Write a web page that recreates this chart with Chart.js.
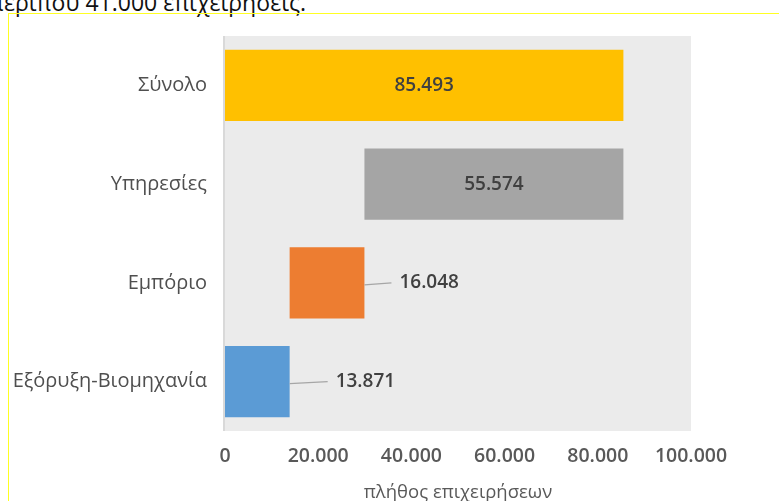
<!DOCTYPE html>
<html>
<head>
<meta charset="utf-8">
<title>Επιχειρήσεις ανά τομέα</title>
<script src="https://cdn.jsdelivr.net/npm/chart.js"></script>
<style>
	body { margin: 0; background: #fff; width: 779px; height: 501px; overflow: hidden; position: relative; font-family: "Open Sans", sans-serif; }
	.keimeno { position: absolute; left: -11px; top: -14px; font-size: 23px; color: #111; white-space: nowrap; }
	.plaisio { position: absolute; left: 8px; top: 13px; width: 800px; height: 520px; border: 1px solid #ffff22; box-sizing: border-box; }
	#grafima { position: absolute; left: 0; top: 0; }
</style>
</head>
<body>

<div class="keimeno">περίπου 41.000 επιχειρήσεις.</div>
<div class="plaisio"></div>
<canvas id="grafima" width="779" height="501"></canvas>

<script>
	// κατηγορίες και τιμές (πλήθος επιχειρήσεων)
	var katigories = ["Σύνολο", "Υπηρεσίες", "Εμπόριο", "Εξόρυξη-Βιομηχανία"];
	var times = [85493, 55574, 16048, 13871];
	// από πού ξεκινά κάθε μπάρα (καταρράκτης)
	var arxes = [0, 29919, 13871, 0];
	var xromata = ["#FFC000", "#A5A5A5", "#ED7D31", "#5B9BD5"];
	var tickTimes = [0, 20000, 40000, 60000, 80000, 100000];

	function morfi(n) {
		return n.toString().replace(/\B(?=(\d{3})+(?!\d))/g, ".");
	}

	var dedomena = [];
	for (var i = 0; i < times.length; i++) {
		dedomena.push([arxes[i], arxes[i] + times[i]]);
	}

	// γκρι φόντο της περιοχής σχεδίασης και γραμμή άξονα
	var fonto = {
		id: "fonto",
		beforeDraw: function (chart) {
			var ca = chart.chartArea;
			var ctx = chart.ctx;
			ctx.save();
			ctx.fillStyle = "#EBEBEB";
			ctx.fillRect(ca.left, ca.top, ca.right - ca.left, ca.bottom - ca.top);
			ctx.fillStyle = "#D9D9D9";
			ctx.fillRect(ca.left - 2, ca.top, 2, ca.bottom - ca.top);
			ctx.restore();
		}
	};

	// ετικέτες τιμών: μέσα στη μπάρα αν χωράει, αλλιώς δεξιά με οδηγό γραμμή
	var etiketes = {
		id: "etiketes",
		afterDatasetsDraw: function (chart) {
			var ctx = chart.ctx;
			var meta = chart.getDatasetMeta(0);
			ctx.save();
			ctx.font = "600 19px 'Open Sans'";
			ctx.fillStyle = "#404040";
			ctx.textBaseline = "middle";
			meta.data.forEach(function (bar, i) {
				var keimeno = morfi(times[i]);
				var aristera = Math.min(bar.x, bar.base);
				var dexia = Math.max(bar.x, bar.base);
				if (dexia - aristera > 120) {
					ctx.textAlign = "center";
					ctx.fillText(keimeno, (aristera + dexia) / 2, bar.y);
				} else {
					// μικρές μπάρες: ο οδηγός μακραίνει όσο στενεύει η μπάρα
					var mikos = i == 3 ? 38 : 27;
					ctx.strokeStyle = "#A6A6A6";
					ctx.lineWidth = 1.5;
					ctx.beginPath();
					ctx.moveTo(dexia, bar.y + 2);
					ctx.lineTo(dexia + mikos, bar.y);
					ctx.stroke();
					ctx.textAlign = "left";
					ctx.fillText(keimeno, dexia + mikos + 8, bar.y);
				}
			});
			ctx.restore();
		}
	};

	new Chart(document.getElementById("grafima"), {
		type: "bar",
		data: {
			labels: katigories,
			datasets: [{
				data: dedomena,
				backgroundColor: xromata,
				borderWidth: 0,
				borderSkipped: false,
				categoryPercentage: 1,
				barPercentage: 0.72
			}]
		},
		options: {
			indexAxis: "y",
			responsive: false,
			animation: false,
			events: [],
			layout: { padding: { left: 0, top: 36, right: 88, bottom: 0 } },
			plugins: {
				legend: { display: false },
				tooltip: { enabled: false }
			},
			scales: {
				x: {
					min: 0,
					max: 100000,
					afterBuildTicks: function (axis) {
						axis.ticks = tickTimes.map(function (v) { return { value: v }; });
					},
					afterFit: function (axis) { axis.height = 70; },
					grid: { display: false },
					border: { display: false },
					ticks: {
						color: "#595959",
						font: { family: "Open Sans", size: 19.5, weight: "600" },
						padding: 6,
						maxRotation: 0,
						callback: function (v) { return morfi(v); }
					},
					title: {
						display: true,
						text: "πλήθος επιχειρήσεων",
						color: "#595959",
						font: { family: "Open Sans", size: 18.5 },
						padding: { top: 0, bottom: -3 }
					}
				},
				y: {
					afterFit: function (axis) { axis.width = 225; },
					grid: { display: false },
					border: { display: false },
					ticks: {
						color: "#4F4F4F",
						font: { family: "Open Sans", size: 20 },
						padding: 10
					}
				}
			}
		},
		plugins: [fonto, etiketes]
	});
</script>
</body>
</html>
